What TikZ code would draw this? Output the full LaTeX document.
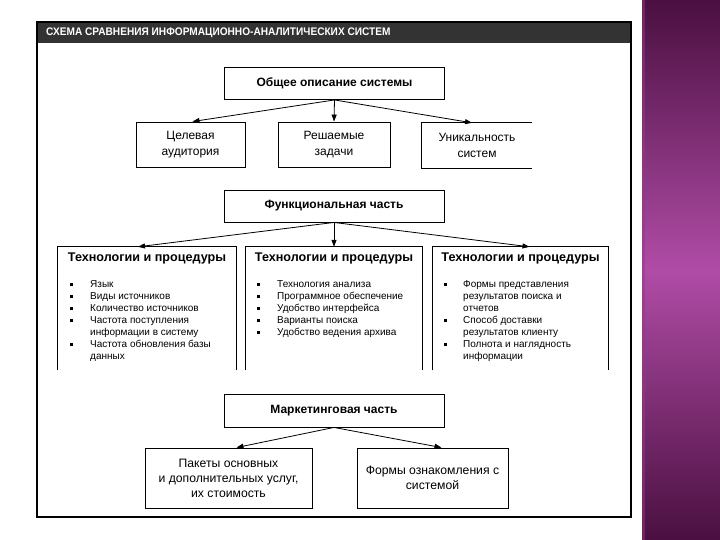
\documentclass[tikz,border=0pt]{standalone}
\usepackage{fontspec}
\setmainfont{Liberation Sans}
\usetikzlibrary{arrows.meta,calc}
\definecolor{hdr}{HTML}{333333}
\definecolor{purpA}{HTML}{4A1040}
\definecolor{purpB}{HTML}{B04CA6}
\tikzset{
  box/.style={draw, line width=0.9pt, rectangle, inner sep=0pt, align=center},
  openbox/.style={rectangle, inner sep=0pt},
  arr/.style={line width=0.8pt, -{Triangle[length=7pt,width=5pt]}},
  bold10/.style={font=\fontsize{12}{14}\selectfont\bfseries},
  reg11/.style={font=\fontsize{12}{15.5}\selectfont},
  reg12/.style={font=\fontsize{12.2}{15}\selectfont},
  head12/.style={font=\fontsize{12.6}{14}\selectfont\bfseries},
  item/.style={font=\fontsize{10}{12}\selectfont, anchor=north west, inner sep=0pt, align=left}
}
\newcommand{\bul}{\rule[1.5pt]{3pt}{3pt}}
\begin{document}
\begin{tikzpicture}[x=1pt,y=-1pt]
\useasboundingbox (0,0) rectangle (720,540);
\fill[white] (0,0) rectangle (720,540);
% purple side panel
\shade[top color=purpA, bottom color=purpA, middle color=purpB] (642,0) rectangle (720,540);
\fill[purpB!70!purpA, opacity=0.5] (642,0) rectangle (645,540);
% outer frame and header
\fill[hdr] (37,22) rectangle (631,43);
\draw[line width=1.3pt] (37,22) rectangle (631,517);
\node[anchor=west, text=white, font=\fontsize{11}{12}\selectfont\bfseries, inner sep=0pt] (title) at (46,33)
  {\scalebox{0.92}[1]{СХЕМА СРАВНЕНИЯ ИНФОРМАЦИОННО-АНАЛИТИЧЕСКИХ СИСТЕМ}};

% top level
\node[box, bold10, minimum width=220pt, minimum height=32pt] (top) at (334.5,83.5) {Общее описание системы};
\node[box, reg11, minimum width=109pt, minimum height=45pt] (c1) at (190.5,144.5) {Целевая\\аудитория};
\node[box, reg11, minimum width=112pt, minimum height=45pt] (c2) at (334,144.5) {Решаемые\\задачи};
\node[openbox, reg11, minimum width=110pt, minimum height=45pt, align=center] (c3) at (477,145.5) {Уникальность\\систем};
\draw[line width=0.9pt] (c3.north east) -- (c3.north west) -- (c3.south west) -- (c3.south east);

\draw[arr] (top.south) -- ([xshift=2pt]c1.north);
\draw[arr] (top.south) -- (c2.north);
\draw[arr] (top.south) -- ([xshift=-5pt]c3.north);

% functional part
\node[box, bold10, minimum width=220pt, minimum height=32pt] (func) at (334,206) {Функциональная часть};
\node[openbox, minimum width=178pt, minimum height=123pt] (t1) at (147,308.5) {};
\node[openbox, minimum width=176pt, minimum height=123pt] (t2) at (334,308.5) {};
\node[openbox, minimum width=175pt, minimum height=123pt] (t3) at (520.5,308.5) {};
\foreach \t in {t1,t2,t3}{
  \draw[line width=0.9pt] (\t.south west) -- (\t.north west) -- (\t.north east) -- (\t.south east);
}
\draw[arr] (func.south) -- ([xshift=-9pt]t1.north);
\draw[arr] (func.south) -- (t2.north);
\draw[arr] (func.south) -- ([xshift=9pt]t3.north);

\node[head12] (h1) at ([yshift=-12pt]t1.north) {Технологии и процедуры};
\node[head12] (h2) at ([yshift=-12pt]t2.north) {Технологии и процедуры};
\node[head12] (h3) at ([yshift=-12pt]t3.north) {Технологии и процедуры};

\node[item] (l1) at (70,279) {%
\begin{tabular}{@{}p{20pt}@{}l@{}}
\bul & Язык\\
\bul & Виды источников\\
\bul & Количество источников\\
\bul & Частота поступления\\
     & информации в систему\\
\bul & Частота обновления базы\\[-0.5pt]
     & данных
\end{tabular}};
\node[item] (l2) at (257,279) {%
\begin{tabular}{@{}p{20pt}@{}l@{}}
\bul & Технология анализа\\
\bul & Программное обеспечение\\
\bul & Удобство интерфейса\\
\bul & Варианты поиска\\
\bul & Удобство ведения архива
\end{tabular}};
\node[item] (l3) at (444,279) {%
\begin{tabular}{@{}p{19pt}@{}l@{}}
\bul & Формы представления\\
     & результатов поиска и\\
     & отчетов\\
\bul & Способ доставки\\
     & результатов клиенту\\
\bul & Полнота и наглядность\\[-0.5pt]
     & информации
\end{tabular}};

% marketing part
\node[box, bold10, minimum width=220pt, minimum height=33pt] (mkt) at (334,410.5) {Маркетинговая часть};
\node[box, reg12, minimum width=167pt, minimum height=60pt] (b1) at (228.5,478) {Пакеты основных\\и дополнительных услуг,\\их стоимость};
\node[box, reg12, minimum width=151pt, minimum height=60pt] (b2) at (432.5,478) {Формы ознакомления с\\системой};
\draw[arr] (mkt.south) -- ([xshift=8pt]b1.north);
\draw[arr] (mkt.south) -- ([xshift=9pt]b2.north);
\end{tikzpicture}
\end{document}
